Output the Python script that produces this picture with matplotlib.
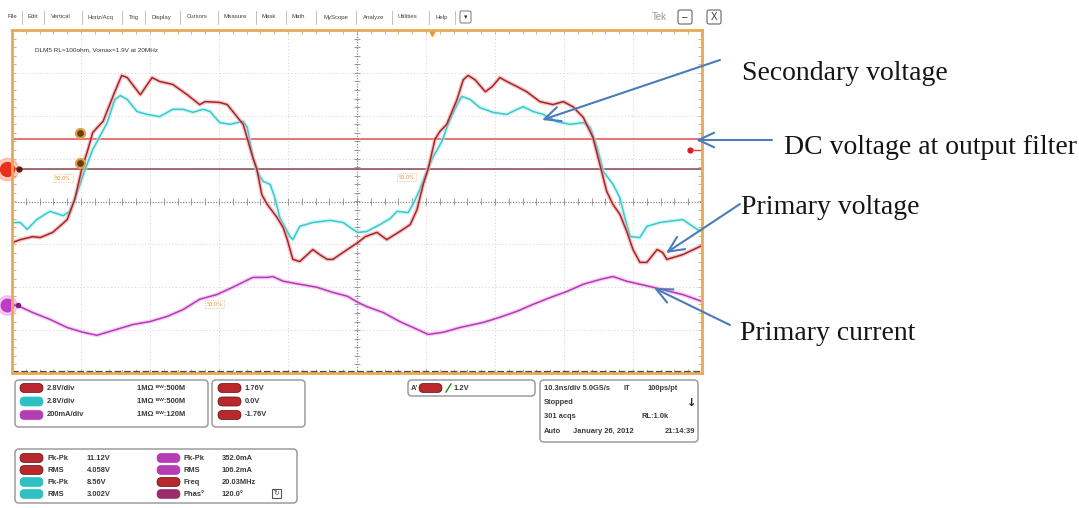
import numpy as np
import matplotlib.pyplot as plt
from matplotlib.patches import FancyBboxPatch, Rectangle

W, H = 1079, 508

# ---- scope traces, x in divisions (10.3 ns/div), y in divisions from screen centre ----
# Ch1 (red) - primary voltage
pri_v_t = [0.00, 0.12, 0.30, 0.41, 0.59, 0.74, 0.80, 0.91, 1.01, 1.10, 1.17, 1.32, 1.49, 1.59,
           1.67, 1.86, 2.03, 2.14, 2.33, 2.54, 2.72, 2.80, 3.01, 3.12, 3.20, 3.35, 3.49, 3.55,
           3.62, 3.70, 3.84, 3.93, 3.99, 4.07, 4.17, 4.36, 4.46, 4.57, 4.65, 4.86, 5.01, 5.12,
           5.29, 5.43, 5.62, 5.77, 5.87, 5.96, 6.03, 6.13, 6.20, 6.30, 6.45, 6.54, 6.61, 6.71,
           6.86, 6.96, 7.07, 7.17, 7.32, 7.46, 7.65, 7.84, 7.99, 8.13, 8.28, 8.42, 8.52, 8.62,
           8.71, 8.81, 8.91, 9.00, 9.10, 9.20, 9.35, 9.43, 9.49, 9.72, 9.97, 10.0]
pri_v_y = [-0.96, -0.89, -0.82, -0.84, -0.72, -0.51, -0.42, 0.05, 0.75, 1.21, 1.61, 1.87, 2.56, 2.94,
           2.89, 2.49, 2.89, 2.80, 2.73, 2.49, 2.26, 2.33, 2.31, 2.26, 2.10, 1.80, 1.03, 0.75,
           0.16, -0.07, -0.37, -0.61, -0.89, -1.35, -1.40, -1.12, -1.24, -1.35, -1.35, -1.12, -0.96, -0.82,
           -0.72, -0.89, -0.70, -0.54, -0.19, 0.40, 0.75, 1.45, 1.63, 1.80, 2.38, 2.84, 2.94, 2.84,
           2.56, 2.68, 2.89, 2.80, 2.68, 2.56, 2.33, 2.26, 2.33, 2.21, 1.96, 1.49, 0.86, 0.23,
           -0.07, -0.30, -0.70, -1.12, -1.42, -1.42, -1.12, -1.19, -1.35, -1.24, -1.05, -1.03]

# Ch2 (cyan) - secondary voltage
sec_v_t = [0.00, 0.12, 0.22, 0.36, 0.55, 0.74, 0.84, 0.96, 1.06, 1.17, 1.28, 1.38, 1.49, 1.57,
           1.67, 1.81, 1.96, 2.14, 2.33, 2.48, 2.62, 2.77, 2.87, 3.01, 3.16, 3.35, 3.41, 3.49,
           3.55, 3.64, 3.74, 3.81, 3.88, 3.96, 4.03, 4.07, 4.17, 4.36, 4.61, 4.80, 4.94, 5.01,
           5.14, 5.33, 5.48, 5.58, 5.74, 5.81, 5.91, 6.01, 6.10, 6.23, 6.32, 6.45, 6.52, 6.64,
           6.78, 6.97, 7.17, 7.32, 7.41, 7.55, 7.70, 7.90, 8.09, 8.28, 8.38, 8.48, 8.57, 8.71,
           8.81, 8.88, 8.96, 9.10, 9.20, 9.39, 9.72, 9.93, 10.0]
sec_v_y = [-0.49, -0.49, -0.65, -0.42, -0.23, -0.33, -0.23, 0.28, 0.75, 1.21, 1.54, 1.84, 2.38, 2.47,
           2.38, 2.10, 2.03, 1.98, 2.15, 2.15, 2.08, 2.15, 2.10, 1.84, 1.80, 1.87, 1.73, 1.03,
           0.70, 0.47, 0.40, 0.09, -0.37, -0.61, -0.82, -0.89, -0.58, -0.49, -0.44, -0.49, -0.65, -0.72,
           -0.70, -0.54, -0.40, -0.23, -0.26, -0.07, 0.28, 0.70, 1.03, 1.40, 1.80, 2.26, 2.45, 2.38,
           2.19, 2.08, 2.03, 2.15, 2.21, 2.10, 2.03, 1.86, 1.80, 1.84, 1.73, 1.26, 0.70, 0.40,
           0.09, -0.37, -0.82, -0.84, -0.58, -0.49, -0.42, -0.65, -0.70]

# Ch3 (magenta) - primary current
pri_i_t = [0.00, 0.07, 0.30, 0.55, 0.80, 1.03, 1.23, 1.42, 1.75, 2.00, 2.25, 2.48, 2.72, 2.97,
           3.20, 3.49, 3.70, 3.78, 3.93, 4.17, 4.42, 4.65, 4.86, 5.01, 5.14, 5.38, 5.62, 5.87,
           6.03, 6.25, 6.49, 6.83, 7.07, 7.32, 7.55, 7.80, 8.04, 8.28, 8.52, 8.71, 8.91, 9.10,
           9.29, 9.54, 9.72, 10.0]
pri_i_y = [-2.42, -2.42, -2.59, -2.75, -2.94, -3.05, -3.12, -3.03, -2.87, -2.80, -2.68, -2.52, -2.28, -2.17,
           -2.00, -1.77, -1.77, -1.75, -1.86, -1.93, -2.00, -2.12, -2.21, -2.35, -2.45, -2.59, -2.80, -2.98,
           -3.10, -3.05, -2.94, -2.82, -2.70, -2.56, -2.40, -2.24, -2.10, -1.93, -1.82, -1.75, -1.86, -1.93,
           -2.00, -2.10, -2.17, -2.33]

dc_level = 1.45      # output filter DC level
ch1_ref = 0.75       # ch1 reference / 50% level
ch3_ref = -2.42
cursor_t = 0.99
cursor_levels = [1.59, 0.89]
trig_pos = 6.09
trig_level = 1.21

# ---- readouts ----
menu_items = ["File", "Edit", "Vertical", "Horiz/Acq", "Trig", "Display", "Cursors", "Measure",
              "Mask", "Math", "MyScope", "Analyze", "Utilities", "Help"]
ch_scales = ["2.8V/div", "2.8V/div", "200mA/div"]
ch_inputs = ["1M\u03a9 \u1d2e\u1d42:500M", "1M\u03a9 \u1d2e\u1d42:500M", "1M\u03a9 \u1d2e\u1d42:120M"]
ref_levels = ["1.76V", "0.0V", "-1.76V"]
trig_text = "1.2V"
time_rows = [["10.3ns/div 5.0GS/s", "IT", "100ps/pt"],
             ["Stopped", "", "\u2193"],
             ["301 acqs", "", "RL:1.0k"],
             ["Auto", "January 26, 2012", "21:14:39"]]
meas_l_names = ["Pk-Pk", "RMS", "Pk-Pk", "RMS"]
meas_l_vals = ["11.12V", "4.058V", "8.56V", "3.002V"]
meas_r_names = ["Pk-Pk", "RMS", "Freq", "Phas\u00b0"]
meas_r_vals = ["352.0mA", "106.2mA", "20.03MHz", "120.0\u00b0"]

RED, CYAN, MAG = "#b8282c", "#2fc0c4", "#b43cb4"
PHASE = "#9c2c6c"
meas_l_cols = [RED, RED, CYAN, CYAN]
meas_r_cols = [MAG, MAG, RED, PHASE]
ch_cols = [RED, CYAN, MAG]

labels = ["Secondary voltage", "DC voltage at output filter", "Primary voltage", "Primary current"]

fig = plt.figure(figsize=(W / 100, H / 100), dpi=100)
fig.patch.set_facecolor("white")

# ---- graticule ----
sc = fig.add_axes([12 / W, 1 - 373 / H, 690 / W, 343 / H])
sc.set_xlim(0, 10)
sc.set_ylim(-4, 4)
sc.set_facecolor("white")
for s in sc.spines.values():
    s.set_color("#e6aa55")
    s.set_linewidth(2)
sc.set_xticks(np.arange(0, 10.01, 0.2))
sc.set_yticks(np.arange(-4, 4.01, 0.2))
sc.tick_params(direction="in", length=3, width=0.6, color="#d6a45c", top=True, right=True,
               labelbottom=False, labelleft=False)

for gx in range(1, 10):
    if gx != 5:
        sc.axvline(gx, color="#cfcfcf", lw=0.7, ls=(0, (1, 2.5)))
for gy in range(-3, 4):
    if gy != 0:
        sc.axhline(gy, color="#cfcfcf", lw=0.7, ls=(0, (1, 2.5)))
sc.axhline(0, color="#8c8c8c", lw=0.9, ls=(0, (1, 1.2)))
sc.axvline(5, color="#8c8c8c", lw=0.9, ls=(0, (1, 1.2)))
minor_x = np.arange(0.2, 10, 0.2)
minor_y = np.arange(-3.8, 4, 0.2)
sc.vlines(minor_x, -0.07, 0.07, color="#8c8c8c", lw=0.6)
sc.hlines(minor_y, 4.95, 5.05, color="#8c8c8c", lw=0.6)
# dark tick strip along the bottom edge
sc.axhline(-3.97, color="#4a4a4a", lw=1.6, ls=(0, (3, 1.2)))

sc.axhline(dc_level, color="#e25c5c", lw=1.2)
sc.axhline(ch1_ref, color="#9a4050", lw=1.1)
sc.axhline(ch1_ref, color="#6a6a6a", lw=0.6, ls=(0, (1, 1.5)))

# traces with a soft glow underneath
for t, y, core, glow in [(pri_i_t, pri_i_y, "#b43cb4", "#f0a8f0"),
                         (sec_v_t, sec_v_y, "#3cc8cc", "#b0f0f2"),
                         (pri_v_t, pri_v_y, "#a3262b", "#f29a9a")]:
    sc.plot(t, y, color=glow, lw=3.0, alpha=0.55, solid_joinstyle="round")
    sc.plot(t, y, color=core, lw=1.1, solid_joinstyle="round")

# channel / cursor / trigger markers
sc.plot(-0.075, ch1_ref, "o", ms=16, color="#ff6a3a", alpha=0.35, clip_on=False)
sc.plot(-0.075, ch1_ref, "o", ms=10, color="#e8301a", clip_on=False)
sc.plot(0.1, ch1_ref, "o", ms=3.5, color="#5a1a1a", clip_on=False)
sc.plot(-0.075, ch3_ref, "o", ms=14, color="#e070e0", alpha=0.35, clip_on=False)
sc.plot(-0.075, ch3_ref, "o", ms=9, color="#c03ac8", clip_on=False)
sc.plot(0.08, ch3_ref, "o", ms=3, color="#7a207a", clip_on=False)
for lv in cursor_levels:
    sc.plot(cursor_t, lv, "o", ms=6.5, mfc="#6a3c14", mec="#e0a040", mew=1.6)
sc.plot(trig_pos, 3.93, "v", ms=5, color="#e89a30", clip_on=False)
sc.plot(9.83, trig_level, "o", ms=3.5, color="#d82020")
sc.plot([9.86, 10.0], [trig_level, trig_level], color="#e04040", lw=1)

for px, py in [(0.74, 0.54), (5.72, 0.56), (2.94, -2.40)]:
    sc.text(px, py, "50.0%", fontsize=3.6, color="#e08a30", ha="center", va="center",
            bbox=dict(boxstyle="square,pad=0.3", fc="white", ec="#e8b070", ls=":", lw=0.6))

sc.text(0.33, 3.54, "DLM5 RL=100ohm, Vomax=1.9V at 20MHz", fontsize=4.6, color="#333333",
        family="Liberation Sans", va="center")

# ---- overlay in pixel units ----
ov = fig.add_axes([0, 0, 1, 1], zorder=5)
ov.set_xlim(0, W)
ov.set_ylim(H, 0)
ov.axis("off")

# menu bar
menu_x = [8, 28, 51, 88, 129, 151, 187, 224, 262, 292, 323, 363, 398, 435]
sep_x = [22, 44, 82, 122, 145, 180, 218, 256, 286, 316, 356, 392, 429, 455]
for name, x in zip(menu_items, menu_x):
    ov.text(x, 17, name, fontsize=4.3, color="#404040", family="Liberation Sans", va="center")
for x in sep_x:
    ov.plot([x, x], [11, 24], color="#b5b5b5", lw=0.6)
ov.add_patch(FancyBboxPatch((460, 11), 11, 12, boxstyle="round,pad=0,rounding_size=1.5",
                            fc="white", ec="#777777", lw=0.7))
ov.text(465.5, 17, "\u25be", fontsize=5, ha="center", va="center", color="#333333")
ov.text(652, 17, "Tek", fontsize=7, color="#9a9a9a", va="center", family="Liberation Sans")
for bx, sym in [(678, "\u2013"), (707, "X")]:
    ov.add_patch(FancyBboxPatch((bx, 10), 14, 14, boxstyle="round,pad=0,rounding_size=2",
                                fc="white", ec="#666666", lw=0.8))
    ov.text(bx + 7, 17, sym, fontsize=7, ha="center", va="center", color="#333333",
            family="Liberation Sans")


def panel(x0, y0, x1, y1):
    ov.add_patch(FancyBboxPatch((x0, y0), x1 - x0, y1 - y0,
                                boxstyle="round,pad=0,rounding_size=4",
                                fc="white", ec="#9c9c9c", lw=1.1))


def pill(x, y, col, w=23):
    ov.add_patch(FancyBboxPatch((x, y - 4.5), w, 9, boxstyle="round,pad=0,rounding_size=4.5",
                                fc=col, ec="#5a1010" if col == RED else col, lw=0.5))


txt = dict(fontsize=5.4, fontweight="bold", color="#3a3a3a", family="Liberation Sans", va="center")

# channel settings
panel(15, 380, 208, 427)
for i, (sc_txt, inp, col) in enumerate(zip(ch_scales, ch_inputs, ch_cols)):
    y = 388 + i * 13.5
    pill(20, y, col)
    ov.text(47, y, sc_txt, **txt)
    ov.text(137, y, inp, **txt)

panel(212, 380, 305, 427)
for i, lv in enumerate(ref_levels):
    y = 388 + i * 13.5
    pill(218, y, RED)
    ov.text(245, y, lv, **txt)

# trigger
panel(408, 380, 535, 396)
ov.text(411, 388, "A'", **txt)
pill(419, 388, RED)
ov.plot([446, 451], [392, 384], color="#2a7a2a", lw=1)
ov.text(454, 388, trig_text, **txt)

# timebase
panel(540, 380, 698, 442)
for i, row in enumerate(time_rows):
    y = 388 + i * 14.5
    ov.text(544, y, row[0], **txt)
    if i == 0:
        ov.text(623, y, row[1], **txt)
        ov.text(648, y, row[2], **txt)
    elif i == 1:
        ov.text(692, y, row[2], fontsize=8, fontweight="bold", color="#222222", ha="center", va="center")
    elif i == 2:
        ov.text(641, y, row[2], **txt)
    else:
        ov.text(573, y, row[1], **txt)
        ov.text(665, y, row[2], **txt)

# measurements
panel(15, 449, 297, 503)
for i in range(4):
    y = 458 + i * 12
    pill(20, y, meas_l_cols[i])
    ov.text(48, y, meas_l_names[i], **txt)
    ov.text(87, y, meas_l_vals[i], **txt)
    pill(157, y, meas_r_cols[i])
    ov.text(184, y, meas_r_names[i], **txt)
    ov.text(222, y, meas_r_vals[i], **txt)
ov.add_patch(Rectangle((272, 489), 9, 9, fc="white", ec="#555555", lw=0.8))
ov.text(276.5, 493.5, "\u21bb", fontsize=5, ha="center", va="center", color="#444444")

# annotations
BLUE = "#4a7cb9"
arrow = dict(arrowstyle="->,head_length=0.75,head_width=0.35", color=BLUE, lw=1.5,
             mutation_scale=15, shrinkA=0, shrinkB=0)
ov.annotate("", xy=(542, 120), xytext=(720, 60), arrowprops=arrow)
ov.annotate("", xy=(696, 140), xytext=(772, 140), arrowprops=arrow)
ov.annotate("", xy=(666, 253), xytext=(740, 204), arrowprops=arrow)
ov.annotate("", xy=(654, 288), xytext=(730, 325), arrowprops=arrow)
serif = dict(family="Liberation Serif", fontsize=20, color="#151515", va="center")
ov.text(742, 73, labels[0], **serif)
ov.text(784, 147, labels[1], **serif)
ov.text(741, 207, labels[2], **serif)
ov.text(740, 333, labels[3], **serif)

fig.savefig("out.png", dpi=100, facecolor="white")
